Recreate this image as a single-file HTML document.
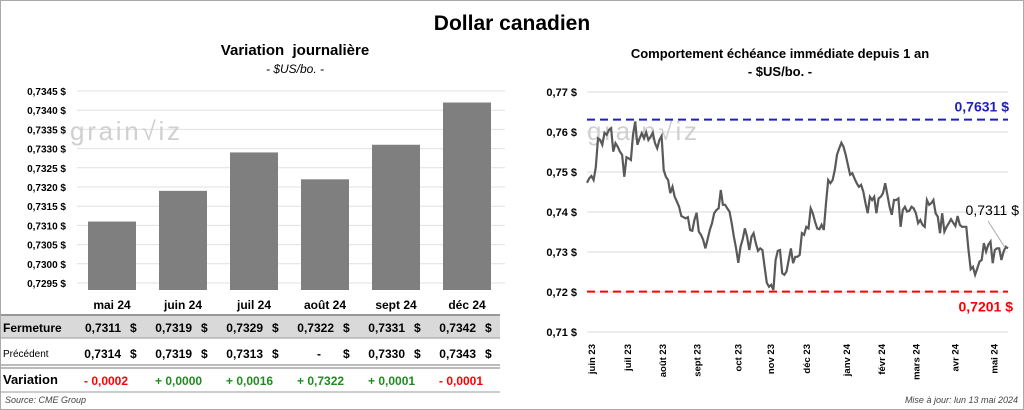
<!DOCTYPE html>
<html><head><meta charset="utf-8"><style>
body{margin:0;width:1024px;height:410px;background:#fff;font-family:"Liberation Sans",sans-serif;overflow:hidden;position:relative}
.t{position:absolute;white-space:nowrap}
</style></head><body>
<div style="position:absolute;left:0;top:0;width:1022px;height:408px;border:1px solid #aaa"></div>
<div class="t" style="left:0;width:1024px;text-align:center;top:12px;font-size:21px;font-weight:bold">Dollar canadien</div>
<div class="t" style="left:80px;width:430px;text-align:center;top:42px;font-size:15px;font-weight:bold">Variation&nbsp; journalière</div>
<div class="t" style="left:80px;width:430px;text-align:center;top:62px;font-size:12px;font-style:italic">- $US/bo. -</div>
<div class="t" style="left:560px;width:440px;text-align:center;top:46px;font-size:13px;font-weight:bold">Comportement échéance immédiate depuis 1 an</div>
<div class="t" style="left:560px;width:440px;text-align:center;top:64px;font-size:13px;font-weight:bold">- $US/bo. -</div>
<svg width="1024" height="410" style="position:absolute;left:0;top:0" id="svg"></svg>
<div class="t" style="left:5px;top:395px;font-size:9px;font-style:italic;color:#444">Source: CME Group</div>
<div class="t" style="right:6px;top:395px;font-size:9px;font-style:italic;color:#444">Mise à jour: lun 13 mai 2024</div>
<script>
const months=["mai 24","juin 24","juil 24","août 24","sept 24","déc 24"];
const closes=[0.7311,0.7319,0.7329,0.7322,0.7331,0.7342];
const prevs=["0,7314","0,7319","0,7313","-","0,7330","0,7343"];
const vars=["- 0,0002","+ 0,0000","+ 0,0016","+ 0,7322","+ 0,0001","- 0,0001"];
const leftTicks=[0.7295,0.7300,0.7305,0.7310,0.7315,0.7320,0.7325,0.7330,0.7335,0.7340,0.7345];
const series=[.7473,.7484,.7490,.7480,.7512,.7584,.7580,.7568,.7598,.7593,.7605,.7609,.7551,.7572,.7563,.7551,.7543,.7488,.7537,.7534,.7530,.7593,.7626,.7568,.7584,.7597,.7584,.7599,.7580,.7588,.7598,.7572,.7559,.7580,.7590,.7505,.7488,.7480,.7447,.7463,.7438,.7426,.7413,.7390,.7387,.7384,.7387,.7355,.7353,.7380,.7398,.7351,.7343,.7330,.7309,.7332,.7355,.7372,.7397,.7405,.7409,.7455,.7418,.7418,.7409,.7401,.7372,.7338,.7309,.7273,.7313,.7332,.7359,.7338,.7305,.7338,.7347,.7322,.7303,.7309,.7305,.7263,.7223,.7213,.7218,.7205,.7280,.7303,.7305,.7247,.7243,.7251,.7280,.7309,.7272,.7288,.7288,.7293,.7347,.7343,.7363,.7359,.7409,.7397,.7376,.7359,.7357,.7368,.7355,.7422,.7480,.7472,.7480,.7505,.7543,.7559,.7573,.7563,.7543,.7518,.7493,.7497,.7484,.7472,.7463,.7468,.7451,.7422,.7397,.7438,.7430,.7438,.7397,.7434,.7438,.7447,.7472,.7443,.7413,.7393,.7430,.7430,.7434,.7363,.7405,.7413,.7401,.7403,.7413,.7409,.7397,.7372,.7380,.7368,.7363,.7430,.7418,.7422,.7430,.7397,.7388,.7347,.7397,.7351,.7363,.7372,.7382,.7373,.7365,.7390,.7368,.7363,.7363,.7363,.7305,.7257,.7263,.7243,.7259,.7276,.7280,.7322,.7301,.7318,.7326,.7272,.7305,.7309,.7309,.7280,.7301,.7313,.7309];
const rightTicks=[0.71,0.72,0.73,0.74,0.75,0.76,0.77];
const monthLabels=["juin 23","juil 23","août 23","sept 23","oct 23","nov 23","déc 23","janv 24","févr 24","mars 24","avr 24","mai 24"];
const monthPos=[0.01,0.095,0.178,0.26,0.357,0.435,0.52,0.615,0.698,0.78,0.873,0.965];
const hiVal=0.7631, loVal=0.7201, lastVal=0.7311;

const svg=document.getElementById('svg');const NS='http://www.w3.org/2000/svg';
function mk(t,a,txt){const e=document.createElementNS(NS,t);for(const k in a)e.setAttribute(k,a[k]);if(txt!=null)e.textContent=txt;svg.appendChild(e);return e;}
const fmt=(v,d)=>v.toFixed(d).replace('.',',');
let e;
// left chart
const ly=v=>283-(v-0.7295)/0.0050*192;
leftTicks.forEach(t=>{mk('line',{x1:77,y1:ly(t),x2:505,y2:ly(t),stroke:'#e0e0e0'});
e=mk('text',{x:66,y:ly(t)+4,'text-anchor':'end','font-size':10,'font-weight':'bold'},fmt(t,4)+' $');

});
e=mk('text',{x:70,y:140,'font-size':26,fill:'#d0d0d0','textLength':110},'grain\u221Aiz');


const cx=i=>112+i*71;
closes.forEach((v,i)=>{const r=mk('rect',{x:cx(i)-24,y:ly(v),width:48,height:290-ly(v),fill:'#7f7f7f'});

});
// table
mk('rect',{x:1,y:316,width:499,height:22,fill:'#d9d9d9'});
mk('line',{x1:1,y1:315,x2:500,y2:315,stroke:'#777','stroke-width':1.5});
mk('line',{x1:1,y1:338,x2:500,y2:338,stroke:'#999'});
mk('line',{x1:1,y1:365,x2:500,y2:365,stroke:'#777'});
mk('line',{x1:1,y1:368,x2:500,y2:368,stroke:'#777'});
mk('line',{x1:1,y1:392,x2:500,y2:392,stroke:'#999'});
const lab=(x,y,s,opt)=>mk('text',Object.assign({x:x,y:y,'font-size':12},opt||{}),s);
e=lab(3,332,'Fermeture',{'font-weight':'bold','font-size':12});
e=lab(3,357,'Précédent',{'font-size':10});
e=lab(3,384,'Variation',{'font-weight':'bold','font-size':13});
months.forEach((m,i)=>{
 e=lab(cx(i),309,m,{'text-anchor':'middle','font-weight':'bold'});
 e=lab(cx(i)+9,332,fmt(closes[i],4),{'text-anchor':'end','font-weight':'bold'});
 lab(cx(i)+18,332,'$',{'font-weight':'bold'});
 e=lab(prevs[i]=='-'?cx(i)-4:cx(i)+9,358,prevs[i],{'text-anchor':'end','font-weight':'bold'});
 lab(cx(i)+18,358,'$',{'font-weight':'bold'});
 e=lab(cx(i)-28,385,vars[i],{'font-weight':'bold',fill:vars[i][0]=='-'?'#ff0000':'#1e8c1e'});
});
// right chart
const X0=587,X1=1008;
const ry=v=>332-(v-0.71)/0.06*240;
rightTicks.forEach(t=>{mk('line',{x1:X0,y1:ry(t),x2:X1,y2:ry(t),stroke:'#d9d9d9'});
e=mk('text',{x:577,y:ry(t)+4,'text-anchor':'end','font-size':11,'font-weight':'bold'},fmt(t,2)+' $');

});
e=mk('text',{x:587,y:140,'font-size':26,fill:'#d0d0d0','textLength':110},'grain\u221Aiz');


mk('line',{x1:X0,y1:ry(hiVal),x2:X1,y2:ry(hiVal),stroke:'#1f1fbf','stroke-width':2,'stroke-dasharray':'8,5'});
mk('line',{x1:X0,y1:ry(loVal),x2:X1,y2:ry(loVal),stroke:'#ff0000','stroke-width':2,'stroke-dasharray':'8,5'});
const rx=i=>X0+i*(X1-X0)/(series.length-1);
let d=series.map((v,i)=>(i?'L':'M')+rx(i).toFixed(1)+','+ry(v).toFixed(1)).join('');
e=mk('path',{d:d,fill:'none',stroke:'#595959','stroke-width':2.2});


e=mk('text',{x:1009,y:ry(hiVal)-8,'text-anchor':'end','font-size':14,'font-weight':'bold',fill:'#1f1fbf'},fmt(hiVal,4)+' $');

e=mk('text',{x:1013,y:ry(loVal)+20,'text-anchor':'end','font-size':14,'font-weight':'bold',fill:'#ff0000'},fmt(loVal,4)+' $');

e=mk('text',{x:1019,y:215,'text-anchor':'end','font-size':14,fill:'#000'},fmt(lastVal,4)+' $');

mk('line',{x1:988,y1:221,x2:1005,y2:ry(lastVal),stroke:'#aaa'});
monthLabels.forEach((m,i)=>{const x=X0+monthPos[i]*(X1-X0)+4;
 e=mk('text',{x:x,y:344,'text-anchor':'end','font-size':9.5,'font-weight':'bold',transform:`rotate(-90 ${x} 344)`},m);
 
 });
</script>
</body></html>
